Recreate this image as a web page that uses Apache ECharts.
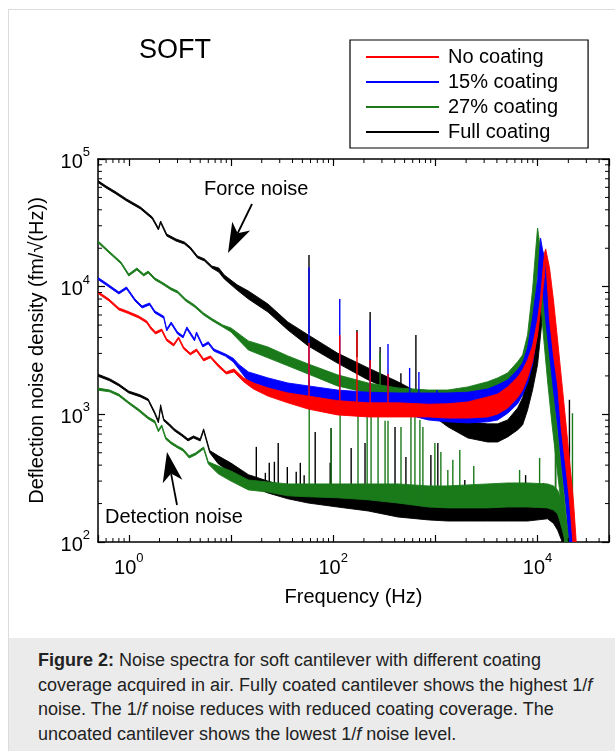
<!DOCTYPE html>
<html>
<head>
<meta charset="utf-8">
<script src="https://cdn.jsdelivr.net/npm/echarts@6/dist/echarts.min.js"></script>
<style>
  body { margin: 0; background: #fff; }
  #wrap { position: relative; width: 615px; height: 751px; overflow: hidden; font-family: "Liberation Sans", Arial, sans-serif; }
  #frame { position: absolute; left: 8px; top: 9px; width: 700px; height: 800px; border: 1px solid #dcdcdc; }
  #chart { position: absolute; left: 0; top: 0; width: 615px; height: 640px; }
  #caption { position: absolute; left: 9px; top: 638px; width: 606px; height: 113px; background: #ebebeb;
             box-sizing: border-box; padding: 10px 0 0 29px; font-size: 18px; line-height: 24.5px; color: #222; white-space: nowrap; }
</style>
</head>
<body>
<div id="wrap">
  <div id="frame"></div>
  <div id="chart"></div>
  <div id="caption"><b>Figure 2:</b> Noise spectra for soft cantilever with different coating<br>coverage acquired in air. Fully coated cantilever shows the highest 1/<i>f</i><br>noise. The 1/<i>f</i> noise reduces with reduced coating coverage. The<br>uncoated cantilever shows the lowest 1/<i>f</i> noise level.</div>
</div>
<script>
// each row: [frequency Hz, lower edge, upper edge] of the noise band (fm/sqrt(Hz))
var noCoating = [
  [0.49, 8930, 9250], [0.64, 7730, 8010], [0.80, 6570, 6810], [0.96, 6220, 6450], [1.25, 5690, 5900],
  [1.5, 5200, 5390], [1.64, 4660, 4860], [1.83, 4260, 4420], [2.1, 4500, 4660], [2.35, 3760, 3900],
  [2.75, 3430, 3560], [3.07, 3900, 4040], [3.44, 3250, 3370], [4.0, 2920, 3020], [4.6, 3130, 3250],
  [5.4, 2620, 2720], [6.3, 2770, 2870], [7.55, 2350, 2450], [9.0, 2070, 2150], [10.7, 2150, 2270],
  [13.3, 1800, 1930], [16.6, 1580, 1760], [23, 1390, 1610], [36, 1230, 1470], [57, 1100, 1390],
  [110, 990, 1280], [220, 954, 1230], [430, 954, 1230], [850, 954, 1200], [1320, 935, 1210],
  [2080, 935, 1250], [3250, 954, 1370], [4070, 1005, 1440], [5100, 1120, 1640], [6380, 1350, 1960],
  [7140, 1550, 2230], [7980, 1930, 2670], [8930, 2580, 3430], [10000, 4190, 5490], [10700, 6570, 8300],
  [11700, 12350, 18400], [12000, 16800, 19750], [13100, 5490, 14000], [14300, 2915, 7870],
  [15700, 1700, 3830], [17100, 755, 1930], [18800, 400, 904], [20500, 214, 440], [22400, 90, 214], [24000, 50, 95]
];
var coating15 = [
  [0.49, 11500, 11930], [0.6, 10300, 10700], [0.8, 8770, 9090], [0.95, 9600, 9950], [1.15, 7730, 8010],
  [1.35, 6810, 7060], [1.6, 7190, 7450], [1.8, 6220, 6450], [2.2, 5660, 5870], [2.35, 4500, 4660],
  [2.6, 5110, 5290], [3.0, 4260, 4420], [3.4, 3970, 4110], [3.7, 4660, 4840], [4.4, 3760, 3900],
  [4.6, 4260, 4420], [5.3, 3370, 3490], [6.0, 3570, 3700], [6.8, 3130, 3250], [8.8, 2860, 2970],
  [10.5, 2580, 2750], [12, 2250, 2450], [14.8, 1800, 2150], [23, 1610, 1930], [36, 1440, 1760],
  [57, 1350, 1670], [110, 1210, 1550], [220, 1080, 1490], [430, 1040, 1470], [850, 904, 1470],
  [1320, 873, 1470], [2080, 857, 1490], [3250, 873, 1580], [4070, 904, 1700], [5100, 1020, 1860],
  [6380, 1210, 2230], [7140, 1420, 2520], [7980, 1760, 3310], [8930, 2440, 5700], [10000, 4580, 11300],
  [10700, 7870, 24000], [11200, 9420, 19400], [12000, 5490, 15600], [13100, 2915, 7870],
  [14300, 1550, 3830], [15700, 826, 1930], [17100, 424, 904], [18800, 214, 440], [20500, 104, 214], [22400, 50, 104]
];
var coating27 = [
  [0.49, 22400, 23200], [0.64, 18400, 19000], [0.84, 15100, 15600], [1.0, 12130, 12570], [1.2, 13500, 14000],
  [1.4, 12130, 12570], [1.55, 12780, 13240], [1.8, 11300, 11700], [2.1, 10520, 10900], [2.6, 9420, 9770],
  [3.0, 8930, 9250], [3.6, 7730, 8010], [4.4, 6930, 7190], [5.4, 6000, 6220], [6.6, 5390, 5590],
  [8.3, 4840, 5010], [10, 4420, 4750], [14.8, 3190, 3760], [23, 2770, 3370], [36, 2400, 2870],
  [57, 2070, 2480], [110, 1670, 2040], [220, 1470, 1760], [430, 1350, 1610], [850, 1210, 1550],
  [1320, 1190, 1550], [2080, 1230, 1640], [3250, 1350, 1800], [4070, 1470, 1930], [5100, 1670, 2110],
  [6380, 1930, 2580], [7140, 2230, 2915], [7980, 2915, 4190], [8930, 5020, 9420], [9500, 7870, 17700],
  [10000, 13500, 28800], [10700, 7870, 19400], [11400, 4190, 10330], [12500, 1860, 4580],
  [13700, 904, 2230], [15000, 480, 1080], [16400, 256, 526], [18000, 124, 256], [19600, 60, 124]
];
var fullCoating = [
  [0.49, 66070, 68500], [0.6, 59300, 61490], [0.75, 53200, 55170], [0.95, 46950, 48700], [1.3, 40630, 42120],
  [1.7, 33910, 35150], [1.95, 27800, 28820], [2.05, 31550, 32700], [2.35, 24930, 25850], [2.9, 22780, 23630],
  [3.5, 21590, 22380], [4.0, 19750, 20460], [4.7, 16800, 17410], [5.5, 15900, 16500], [6.5, 14000, 14510],
  [7.6, 13000, 14000], [8.6, 11500, 12350], [11.5, 9400, 10330], [14.8, 8010, 9250], [23, 6330, 7320],
  [36, 4580, 5290], [57, 3430, 4190], [110, 2520, 3020], [220, 1860, 2310], [430, 1470, 1800],
  [850, 1040, 1350], [1320, 800, 990], [2080, 653, 873], [3250, 607, 842], [4070, 607, 842],
  [5100, 665, 904], [6380, 755, 1120], [7140, 826, 1350], [7980, 1080, 1930], [8930, 1550, 3190],
  [10000, 2450, 6000], [10700, 4190, 9420], [11200, 6000, 13500], [12000, 9420, 16800], [12500, 5490, 13000],
  [13400, 3190, 7870], [14300, 1700, 3830], [15700, 904, 1860], [17100, 440, 904], [18800, 214, 440],
  [20500, 104, 214], [22400, 50, 104]
];
// detection noise floors
var fullDetection = [
  [0.49, 2000, 2075], [0.65, 1830, 1900], [0.8, 1670, 1730], [1.0, 1470, 1520], [1.3, 1370, 1420],
  [1.55, 1280, 1320], [1.8, 1000, 1040], [1.95, 857, 890], [2.05, 1120, 1190], [2.2, 890, 920],
  [2.5, 811, 842], [2.8, 742, 769], [3.3, 677, 702], [3.8, 619, 642], [4.3, 653, 677], [5.0, 619, 642],
  [5.4, 742, 770], [6.2, 500, 520], [7.5, 410, 473], [10, 348, 415], [14.8, 280, 337], [23, 242, 300],
  [36, 218, 270], [57, 202, 251], [110, 188, 238], [220, 175, 222], [430, 157, 202], [850, 149, 192],
  [1320, 146, 188], [2080, 146, 188], [3250, 146, 188], [5100, 146, 188], [8000, 146, 188],
  [12500, 152, 195], [14300, 140, 184], [15700, 124, 170], [17100, 104, 149], [18800, 82, 124], [20500, 60, 87]
];
var detection27 = [
  [0.49, 1550, 1610], [0.65, 1500, 1550], [0.8, 1390, 1440], [1.0, 1210, 1250], [1.25, 1060, 1100],
  [1.55, 920, 954], [1.8, 857, 890], [1.95, 730, 755], [2.1, 800, 826], [2.3, 638, 662], [2.6, 586, 608],
  [3.0, 546, 566], [3.4, 516, 536], [3.9, 455, 473], [4.5, 481, 499], [5.4, 535, 555], [6.0, 409, 425],
  [7.5, 342, 394], [10, 300, 360], [14.8, 256, 306], [23, 246, 295], [36, 230, 285], [57, 226, 285],
  [110, 222, 285], [220, 214, 285], [430, 202, 285], [850, 188, 275], [1320, 185, 275], [2080, 185, 280],
  [3250, 185, 285], [5100, 188, 290], [8000, 188, 290], [12500, 185, 285], [14300, 178, 275],
  [15700, 166, 256], [16400, 149, 234], [17500, 124, 195], [19000, 95, 149], [20500, 66, 104]
];
// line pickup spikes: [frequency, foot, top]
var fullSpikes = [
  [58, 4300, 17700], [171, 2800, 4580], [230, 2100, 6330], [288, 1800, 3370], [460, 1500, 2100], [645, 1300, 4190],
  [17.7, 300, 556], [21.7, 280, 348], [23.7, 270, 417], [26.6, 260, 425], [29, 255, 597], [35.6, 240, 387],
  [43.5, 235, 355], [47.7, 230, 417], [52, 225, 334], [66.7, 220, 728], [93.5, 215, 417], [95.5, 215, 783],
  [150, 205, 545], [205, 200, 597], [403, 190, 796], [515, 185, 464], [904, 175, 480], [1057, 175, 597],
  [1941, 170, 306], [7640, 170, 334], [8550, 170, 280], [11450, 170, 290], [15000, 170, 600], [20500, 90, 1300]
];
var spikes27 = [
  [288, 1600, 3020], [58.3, 240, 1860], [95.5, 230, 783], [117, 225, 1190], [175, 220, 1300], [215, 215, 1300],
  [235, 215, 1300], [275, 210, 1150], [322, 210, 890], [344, 210, 890], [461, 205, 796], [577, 200, 954],
  [631, 200, 1020], [706, 200, 904], [755, 200, 796], [989, 200, 597], [1132, 200, 507], [1324, 200, 367],
  [1482, 200, 440], [1734, 200, 526], [2375, 200, 394], [4560, 200, 280], [6670, 200, 367], [10470, 200, 455],
  [15000, 250, 890], [21950, 100, 1020]
];
var spikes15 = [[58, 1500, 14200], [116, 1400, 8020], [230, 1300, 5490], [344, 1300, 3560], [560, 1300, 2310], [690, 1300, 2150], [1035, 1300, 1550]];
var spikesNo = [[58, 1200, 3620], [116, 1150, 4170], [171, 1100, 4420], [230, 1100, 2670], [344, 1100, 2070]];

var legendNames = ['No coating', '15% coating', '27% coating', 'Full coating'];
var legendColors = ['#ff0000', '#0000ff', '#1a7a1a', '#000000'];
var xRange = [0.5, 50000];
var yRange = [100, 100000];
var minorSteps = [2, 3, 4, 5, 6, 7, 8, 9];

var FONT = '"Liberation Sans", Arial, sans-serif';
var RED = legendColors[0], BLUE = legendColors[1], GREEN = legendColors[2], BLACK = legendColors[3];

function bandSeries(name, rows, color) {
  return {
    name: name, type: 'custom', clip: true, silent: true, data: rows,
    encode: { x: 0, y: [1, 2] },
    itemStyle: { color: color },
    renderItem: function (params, api) {
      if (params.dataIndex !== 0) return null;
      var top = rows.map(function (r) { return api.coord([r[0], r[2]]); });
      var bottom = rows.map(function (r) { return api.coord([r[0], r[1]]); }).reverse();
      return {
        type: 'polygon', shape: { points: top.concat(bottom) },
        style: { fill: color, stroke: color, lineWidth: 0.9, lineJoin: 'round' }
      };
    }
  };
}

function spikeSeries(name, rows, color) {
  return {
    name: name, type: 'custom', clip: true, silent: true, data: rows,
    encode: { x: 0, y: [1, 2] },
    itemStyle: { color: color },
    renderItem: function (params, api) {
      var a = api.coord([api.value(0), api.value(1)]);
      var b = api.coord([api.value(0), api.value(2)]);
      return { type: 'line', shape: { x1: a[0], y1: a[1], x2: b[0], y2: b[1] }, style: { stroke: color, lineWidth: 1.4 } };
    }
  };
}

// empty line series that only give the legend its line-shaped keys
var legendKeys = legendNames.map(function (n, i) {
  return { name: n, type: 'line', data: [], symbol: 'none', silent: true,
           lineStyle: { color: legendColors[i], width: 1.5 }, itemStyle: { color: legendColors[i] } };
});

// minor log ticks (2..9 in every decade), mirrored on all four sides of the frame
var minorTicks = [];
for (var d = -1; d <= 4; d++) {
  minorSteps.forEach(function (m) {
    var v = m * Math.pow(10, d);
    if (v > xRange[0] && v < xRange[1]) minorTicks.push([v, 1000, 0]);
    if (d >= 2 && v > yRange[0] && v < yRange[1]) minorTicks.push([1, v, 1]);
  });
}

function supLabel(v) {
  var l = Math.log10(v), e = Math.round(l);
  if (Math.abs(l - e) > 1e-6) return '';
  return '{b|10}{s|' + e + '}';
}
var labelRich = {
  b: { fontSize: 20, fontFamily: FONT, color: '#000', lineHeight: 26, verticalAlign: 'bottom' },
  s: { fontSize: 13, fontFamily: FONT, color: '#000', lineHeight: 13, verticalAlign: 'top' }
};

function arrow(sx, sy, tx, ty) {
  var dx = tx - sx, dy = ty - sy, len = Math.sqrt(dx * dx + dy * dy);
  var ux = dx / len, uy = dy / len, px = -uy, py = ux;
  var bx = tx - 30 * ux, by = ty - 30 * uy, nx = tx - 22 * ux, ny = ty - 22 * uy;
  return {
    type: 'group',
    children: [
      { type: 'line', shape: { x1: sx, y1: sy, x2: nx, y2: ny }, style: { stroke: '#000', lineWidth: 1.8 } },
      { type: 'polygon', shape: { points: [[tx, ty], [bx + 10 * px, by + 10 * py], [nx, ny], [bx - 10 * px, by - 10 * py]] },
        style: { fill: '#000' } }
    ]
  };
}

var chart = echarts.init(document.getElementById('chart'));
var axisLine = { show: true, lineStyle: { color: '#000', width: 1.5 } };
var majorTick = { show: true, inside: true, length: 7, lineStyle: { color: '#000', width: 1.2 } };

var option = {
  animation: false,
  textStyle: { fontFamily: FONT },
  grid: { left: 98, top: 159, right: 6, bottom: 98, show: false },
  legend: {
    data: legendNames, left: 350, top: 40, orient: 'vertical', selectedMode: false,
    itemWidth: 73, itemHeight: 14, itemGap: 5,
    itemStyle: { opacity: 0 },
    padding: [7, 30, 6, 15], borderColor: '#000', borderWidth: 1.2,
    textStyle: { fontSize: 20, color: '#000', fontFamily: FONT, padding: [0, 0, 0, 4] }
  },
  xAxis: [
    { type: 'log', min: xRange[0], max: xRange[1], position: 'bottom',
      name: 'Frequency (Hz)', nameLocation: 'middle', nameGap: 45,
      nameTextStyle: { fontSize: 20, color: '#000', fontFamily: FONT },
      axisLine: axisLine, axisTick: majorTick, splitLine: { show: false },
      axisLabel: { margin: 10, formatter: function (v) { var e = Math.round(Math.log10(v)); return e % 2 === 0 ? supLabel(v) : ''; }, rich: labelRich } },
    { type: 'log', min: xRange[0], max: xRange[1], position: 'top',
      axisLine: axisLine, axisTick: majorTick, splitLine: { show: false }, axisLabel: { show: false } }
  ],
  yAxis: [
    { type: 'log', min: yRange[0], max: yRange[1], position: 'left',
      name: 'Deflection noise density (fm/\u221A(Hz))', nameLocation: 'middle', nameGap: 51,
      nameTextStyle: { fontSize: 20, color: '#000', fontFamily: FONT },
      axisLine: axisLine, axisTick: majorTick, splitLine: { show: false },
      axisLabel: { margin: 8, formatter: supLabel, rich: labelRich } },
    { type: 'log', min: yRange[0], max: yRange[1], position: 'right',
      axisLine: axisLine, axisTick: majorTick, splitLine: { show: false }, axisLabel: { show: false } }
  ],
  series: legendKeys.concat([
    bandSeries('Full coating', fullCoating, BLACK),
    bandSeries('Full coating', fullDetection, BLACK),
    spikeSeries('Full coating', fullSpikes, BLACK),
    bandSeries('27% coating', coating27, GREEN),
    bandSeries('27% coating', detection27, GREEN),
    spikeSeries('27% coating', spikes27, GREEN),
    bandSeries('15% coating', coating15, BLUE),
    spikeSeries('15% coating', spikes15, BLUE),
    bandSeries('No coating', noCoating, RED),
    spikeSeries('No coating', spikesNo, RED),
    {
      name: 'ticks', type: 'custom', clip: false, silent: true, z: 5, data: minorTicks,
      encode: { x: 0, y: 1 },
      renderItem: function (params, api) {
        var cs = params.coordSys, st = { stroke: '#000', lineWidth: 1 };
        if (api.value(2) === 0) {
          var x = api.coord([api.value(0), 1000])[0], yb = cs.y + cs.height;
          return { type: 'group', children: [
            { type: 'line', shape: { x1: x, y1: yb, x2: x, y2: yb - 4 }, style: st },
            { type: 'line', shape: { x1: x, y1: cs.y, x2: x, y2: cs.y + 4 }, style: st } ] };
        }
        var y = api.coord([1, api.value(1)])[1], xr = cs.x + cs.width;
        return { type: 'group', children: [
          { type: 'line', shape: { x1: cs.x, y1: y, x2: cs.x + 4, y2: y }, style: st },
          { type: 'line', shape: { x1: xr, y1: y, x2: xr - 4, y2: y }, style: st } ] };
      }
    }
  ]),
  graphic: [
    { type: 'text', left: 139, top: 37, style: { text: 'SOFT', font: '27px ' + FONT, fill: '#000' } },
    { type: 'text', left: 204, top: 179, style: { text: 'Force noise', font: '20px ' + FONT, fill: '#000' } },
    { type: 'text', left: 105, top: 507, style: { text: 'Detection noise', font: '20px ' + FONT, fill: '#000' } },
    arrow(252, 204, 228, 253),
    arrow(177, 505, 167, 452)
  ]
};
chart.setOption(option);
</script>
</body>
</html>
